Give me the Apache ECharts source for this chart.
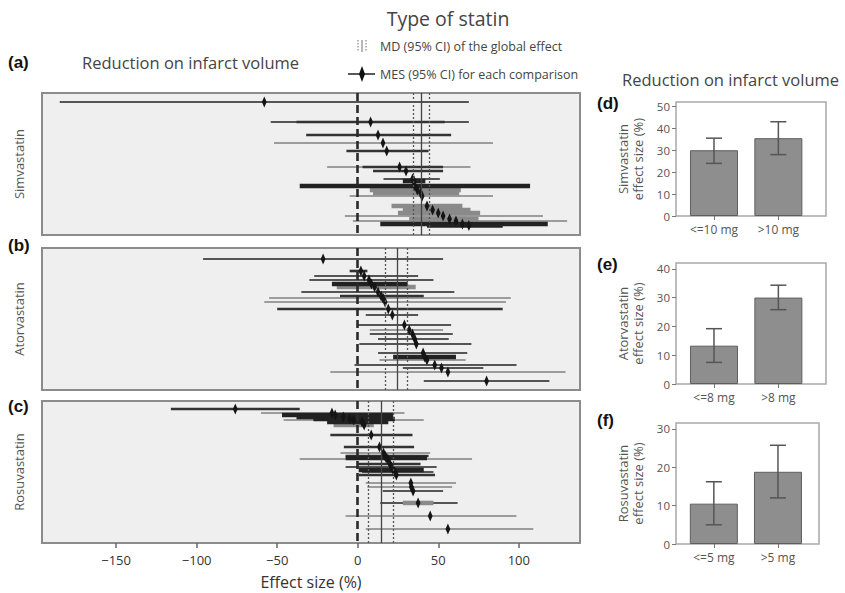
<!DOCTYPE html>
<html><head><meta charset="utf-8">
<script src="https://cdn.jsdelivr.net/npm/echarts@6/dist/echarts.min.js"></script>
<style>html,body{margin:0;padding:0;background:#fff}#c{width:845px;height:593px}</style>
</head><body><div id="c"></div><script>
const FONT = "'Open Sans', 'Noto Sans', sans-serif";
const xTicks = [-150, -100, -50, 0, 50, 100];
const panelNames = ['Simvastatin', 'Atorvastatin', 'Rosuvastatin'];

// rows: [row position (0 = top, 100 = bottom), CI low, mean (null = segment only), CI high, weight class 1..5]
const simRows = [
  [6.3, -185, -58, 69, 2],
  [20.4, -54, 8, 69, 2],
  [20.4, -38, null, 54, 3],
  [29.6, -32, 12.6, 58, 3],
  [35.2, -52, 15.7, 84, 1],
  [40.8, -7, 18, 44, 3],
  [52.1, -19, 26, 70, 1],
  [52.1, 3, null, 53, 3],
  [54.9, 9.5, 30, 53, 3],
  [60.6, 16, 34, 51, 2],
  [62.0, 28, 35, 42, 5],
  [65.5, -36, 35.5, 107, 5],
  [68.3, 7.5, 37, 64, 4],
  [70.4, 9.5, 39, 63, 4],
  [72.5, -5, 40, 84, 1],
  [79.6, 21, 43, 65, 4],
  [82.4, 28, 46.5, 70, 4],
  [84.5, 25, 50, 76, 4],
  [86.6, -8, 53, 115, 1],
  [88.7, 32, 57, 75, 4],
  [90.1, -3, 61, 130, 1],
  [92.3, 14, 65, 118, 5],
  [93.3, 43, 69, 90, 5]
];
const atorRows = [
  [7.7, -96, -21.5, 53, 2],
  [16.2, -5, 2, 6, 3],
  [19.7, -27, 4, 37.5, 2],
  [22.5, -30, 7, 47, 2],
  [25.4, -16, 8.5, 31, 5],
  [27.5, -13, 10.5, 36, 4],
  [31.0, -35, 12.6, 60, 2],
  [33.8, -11, 14.5, 41, 3],
  [35.2, -55, 15.7, 95, 1],
  [38.0, -58, 17, 92, 1],
  [43.0, -50, 19, 90, 3],
  [47.2, 5, 21.5, 37.5, 2],
  [54.2, 0, 29, 58, 2],
  [57.7, 7.5, 32, 53, 1],
  [60.6, 7.5, 34, 59, 2],
  [64.1, 12.6, 35.4, 56.5, 2],
  [67.6, 1, 36.4, 70.6, 2],
  [74.0, 12.6, 40.6, 68, 2],
  [76.8, 22, 41.6, 61, 5],
  [78.9, 13.5, 43, 67, 1],
  [82.4, -2, 47.8, 98.6, 2],
  [84.5, 28, 52, 78, 2],
  [87.3, -17, 56, 129, 1],
  [93.7, 41, 80, 119, 2]
];
const rosuRows = [
  [5.6, -116, -76, -36, 3],
  [8.5, -60, -16, 29, 1],
  [9.9, -47, -14, 22, 5],
  [11.3, -38, -9, 19, 5],
  [12.7, -27.5, -5, 23, 5],
  [13.4, -46, -2.5, 41, 1],
  [14.8, -19, 2.7, 19, 5],
  [16.9, -15, 4, 10, 4],
  [23.9, -17, 8.4, 34, 3],
  [32.4, -8.6, 13.5, 35, 3],
  [36.6, -10.7, 16, 45, 1],
  [38.7, -7.5, 17, 44, 3],
  [40.1, -7.5, 17.7, 43, 5],
  [40.8, -36, 18.7, 71, 1],
  [44.4, 0, 20, 39, 3],
  [46.5, -7.5, 21, 49, 2],
  [48.6, 0.6, 22, 41, 5],
  [50.0, 2.7, 23, 47, 2],
  [52.1, 0.6, 24, 48, 3],
  [57.7, 5, 33, 61, 1],
  [60.6, 6, 33.3, 58.6, 1],
  [63.4, 15.5, 34.4, 53, 2],
  [71.8, 14, 37.5, 62, 2],
  [71.8, 28, null, 47, 4],
  [81.0, -7.5, 45, 98.5, 1],
  [90.1, 5, 56, 109, 1]
];
// global effect: [CI low, MD, CI high]
const simGlobal = [34.4, 39.5, 44.3];
const atorGlobal = [17.4, 24.6, 31.0];
const rosuGlobal = [6.8, 14.5, 21.9];

// dose comparison bar charts
const simDoseCats = ['<=10 mg', '>10 mg'];
const simDoseMean = [30, 35.5];
const simDoseLow = [24, 28];
const simDoseHigh = [35.5, 43];
const atorDoseCats = ['<=8 mg', '>8 mg'];
const atorDoseMean = [13.3, 30];
const atorDoseLow = [7.5, 25.8];
const atorDoseHigh = [19.2, 34.3];
const rosuDoseCats = ['<=5 mg', '>5 mg'];
const rosuDoseMean = [10.5, 18.8];
const rosuDoseLow = [5, 12];
const rosuDoseHigh = [16.2, 25.7];
const simTicks = [0, 10, 20, 30, 40, 50];
const atorTicks = [0, 10, 20, 30, 40];
const rosuTicks = [0, 10, 20, 30];

const W = {
  1: {c: '#9c9c9c', lw: 2},
  2: {c: '#555555', lw: 2},
  3: {c: '#333333', lw: 2.6},
  4: {c: '#8a8a8a', lw: 4.5},
  5: {c: '#222222', lw: 4.5}
};

function forestItem(params, api) {
  const y = api.value(0), lo = api.value(1), m = api.value(2), hi = api.value(3), w = api.value(4);
  const p1 = api.coord([lo, y]), p2 = api.coord([hi, y]);
  const st = W[w] || W[2];
  const children = [{type: 'line', shape: {x1: p1[0], y1: p1[1], x2: p2[0], y2: p2[1]},
    style: {stroke: st.c, lineWidth: st.lw}, z2: w}];
  if (m != null && !isNaN(m)) {
    const c = api.coord([m, y]);
    children.push({type: 'polygon', z2: 20,
      shape: {points: [[c[0], c[1] - 5.5], [c[0] + 2.4, c[1]], [c[0], c[1] + 5.5], [c[0] - 2.4, c[1]]]},
      style: {fill: '#151515'}});
  }
  return {type: 'group', children: children};
}

const forestTops = [93, 248, 401];
const allRows = [simRows, atorRows, rosuRows];
const allGlobal = [simGlobal, atorGlobal, rosuGlobal];

const grids = [], xAxes = [], yAxes = [], series = [];
forestTops.forEach((top, i) => {
  grids.push({left: 42, width: 538, top: top, height: 142, show: true,
    backgroundColor: '#efefef', borderColor: '#8c8c8c', borderWidth: 2});
  const last = i === 2;
  xAxes.push({type: 'value', gridIndex: i, min: -196, max: 138, position: 'bottom',
    axisLine: {show: false, onZero: false}, splitLine: {show: false},
    axisTick: {show: last, customValues: xTicks, length: 5, lineStyle: {color: '#666', width: 1.5}},
    axisLabel: {show: last, customValues: xTicks, margin: 10, color: '#333', fontSize: 13, fontFamily: FONT,
      formatter: v => (v < 0 ? '\u2212' + Math.abs(v) : '' + v)},
    name: last ? 'Effect size (%)' : '', nameLocation: 'middle', nameGap: 31,
    nameTextStyle: {color: '#333', fontSize: 16, fontFamily: FONT}});
  yAxes.push({type: 'value', gridIndex: i, min: 0, max: 100, inverse: true,
    axisLine: {show: false, onZero: false}, axisTick: {show: false}, axisLabel: {show: false}, splitLine: {show: false},
    name: panelNames[i], nameLocation: 'middle', nameGap: 17, nameRotate: 90,
    nameTextStyle: {color: '#555', fontSize: 13, fontFamily: FONT}});
  series.push({type: 'custom', xAxisIndex: i, yAxisIndex: i, renderItem: forestItem,
    encode: {x: [1, 2, 3], y: 0}, data: allRows[i], z: 2, silent: true});
  const g = allGlobal[i];
  series.push({type: 'line', xAxisIndex: i, yAxisIndex: i, data: [], z: 5, silent: true,
    markLine: {silent: true, symbol: ['none', 'none'], label: {show: false}, animation: false,
      data: [
        {xAxis: 0, lineStyle: {type: [8, 4], width: 2.6, color: '#2a2a2a'}},
        {xAxis: g[0], lineStyle: {type: [2, 2], width: 1.3, color: '#555'}},
        {xAxis: g[1], lineStyle: {type: 'solid', width: 1.3, color: '#444'}},
        {xAxis: g[2], lineStyle: {type: [2, 2], width: 1.3, color: '#555'}}
      ]}});
});

// bar panels
const bars = [
  {top: 102, height: 114, right: 19, max: 52, ticks: simTicks, cats: simDoseCats, mean: simDoseMean, lo: simDoseLow, hi: simDoseHigh, name: 'Simvastatin\neffect size (%)'},
  {top: 263, height: 121, right: 19, max: 42, ticks: atorTicks, cats: atorDoseCats, mean: atorDoseMean, lo: atorDoseLow, hi: atorDoseHigh, name: 'Atorvastatin\neffect size (%)'},
  {top: 423, height: 121, right: 26, max: 31.5, ticks: rosuTicks, cats: rosuDoseCats, mean: rosuDoseMean, lo: rosuDoseLow, hi: rosuDoseHigh, name: 'Rosuvastatin\neffect size (%)'}
];
bars.forEach((b, k) => {
  const gi = 3 + k;
  grids.push({left: 676, right: b.right, top: b.top, height: b.height, show: true,
    backgroundColor: '#fff', borderColor: '#a8a8a8', borderWidth: 1.5});
  xAxes.push({type: 'value', gridIndex: gi, min: 0.41, max: k === 2 ? 2.64 : 2.74,
    axisLine: {show: false, onZero: false}, splitLine: {show: false},
    axisTick: {show: true, customValues: [1, 2], length: 4, lineStyle: {color: '#777'}},
    axisLabel: {customValues: [1, 2], color: '#555', fontSize: 12, fontFamily: FONT, margin: 7,
      formatter: v => b.cats[Math.round(v) - 1]}});
  yAxes.push({type: 'value', gridIndex: gi, min: 0, max: b.max,
    axisLine: {show: false, onZero: false}, splitLine: {show: false},
    axisTick: {show: true, customValues: b.ticks, length: 4, lineStyle: {color: '#777'}},
    axisLabel: {customValues: b.ticks, color: '#555', fontSize: 11.5, fontFamily: FONT, margin: 6},
    name: b.name, nameLocation: 'middle', nameGap: 31, nameRotate: 90,
    nameTextStyle: {color: '#555', fontSize: 13, fontFamily: FONT, lineHeight: 15}});
  series.push({type: 'bar', xAxisIndex: gi, yAxisIndex: gi, barWidth: 48, silent: true,
    itemStyle: {color: '#8e8e8e', borderColor: '#5e5e5e', borderWidth: 1},
    data: b.mean.map((v, j) => [j + 1, v])});
  series.push({type: 'custom', xAxisIndex: gi, yAxisIndex: gi, silent: true, z: 5,
    encode: {x: 0, y: [1, 2]},
    data: b.mean.map((v, j) => [j + 1, b.lo[j], b.hi[j]]),
    renderItem: (p, api) => {
      const a = api.coord([api.value(0), api.value(1)]);
      const c = api.coord([api.value(0), api.value(2)]);
      const st = {stroke: '#555', lineWidth: 1.5};
      return {type: 'group', children: [
        {type: 'line', shape: {x1: a[0], y1: a[1], x2: c[0], y2: c[1]}, style: st},
        {type: 'line', shape: {x1: a[0] - 8, y1: a[1], x2: a[0] + 8, y2: a[1]}, style: st},
        {type: 'line', shape: {x1: c[0] - 8, y1: c[1], x2: c[0] + 8, y2: c[1]}, style: st}
      ]};
    }});
});

const T = (x, y, text, size, opts) => Object.assign({type: 'text', x: x, y: y,
  style: Object.assign({text: text, fill: '#444', font: size + 'px ' + FONT, textVerticalAlign: 'middle'}, opts || {})});
const B = (x, y, text) => ({type: 'text', x: x, y: y,
  style: {text: text, fill: '#111', font: 'bold 17px "Liberation Sans", Arial, sans-serif', textVerticalAlign: 'middle'}});

const graphic = [
  T(448, 18, 'Type of statin', 19.5, {textAlign: 'center'}),
  T(380, 46, 'MD (95% CI) of the global effect', 12.5),
  T(380, 74, 'MES (95% CI) for each comparison', 12.5),
  T(82, 62, 'Reduction on infarct volume', 16.5),
  T(622, 79, 'Reduction on infarct volume', 16.5),
  B(8, 62, '(a)'), B(8, 245, '(b)'), B(8, 406, '(c)'),
  B(597, 103, '(d)'), B(597, 264, '(e)'), B(597, 420, '(f)'),
  {type: 'line', shape: {x1: 358, y1: 40, x2: 358, y2: 52}, style: {stroke: '#888', lineWidth: 1.2, lineDash: [1.5, 1.5]}},
  {type: 'line', shape: {x1: 362, y1: 40, x2: 362, y2: 52}, style: {stroke: '#888', lineWidth: 1.2}},
  {type: 'line', shape: {x1: 366, y1: 40, x2: 366, y2: 52}, style: {stroke: '#888', lineWidth: 1.2, lineDash: [1.5, 1.5]}},
  {type: 'line', shape: {x1: 348, y1: 74, x2: 375, y2: 74}, style: {stroke: '#222', lineWidth: 1.5}},
  {type: 'polygon', shape: {points: [[362, 66], [365, 74], [362, 82], [359, 74]]}, style: {fill: '#111'}}
];

const chart = echarts.init(document.getElementById('c'), null, {renderer: 'svg'});
chart.setOption({
  animation: false,
  backgroundColor: '#fff',
  grid: grids, xAxis: xAxes, yAxis: yAxes, series: series, graphic: graphic
});
</script></body></html>
